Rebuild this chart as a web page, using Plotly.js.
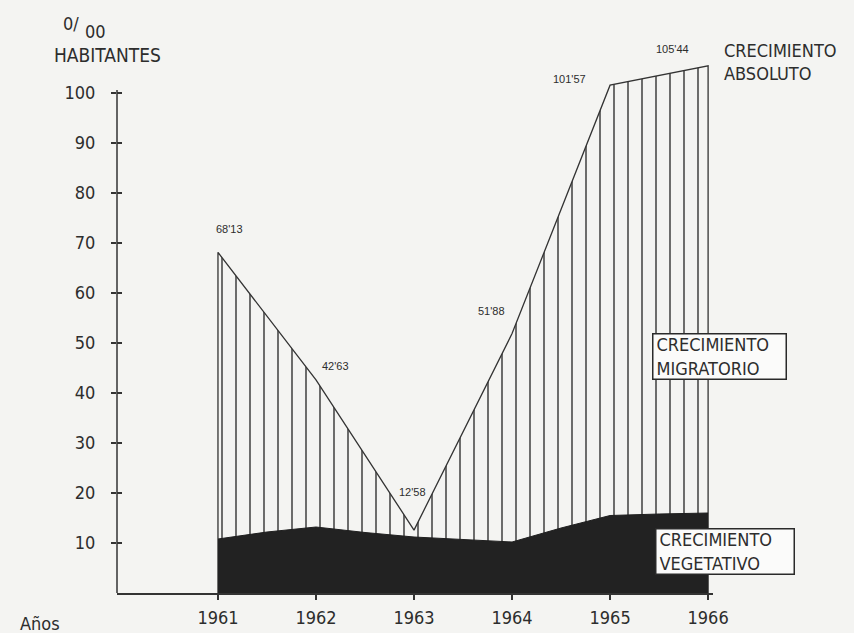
<!DOCTYPE html>
<html>
<head>
<meta charset="utf-8">
<script src="https://cdn.plot.ly/plotly-3.0.1.min.js"></script>
<style>
  html, body { margin: 0; padding: 0; background: #f4f4f2; }
  #chart { width: 854px; height: 633px; }
</style>
</head>
<body>
<div id="chart"></div>
<script>
// ---- Data ----
const years = [1961, 1962, 1963, 1964, 1965, 1966];
const absoluto = [68.13, 42.63, 12.58, 51.88, 101.57, 105.44];
const vegYears = [1961, 1961.5, 1962, 1962.5, 1963, 1963.5, 1964, 1964.5, 1965, 1965.5, 1966];
const vegetativo = [10.8, 12.2, 13.2, 12.1, 11.2, 10.7, 10.2, 13.0, 15.5, 15.8, 16.0];
const yTicks = [10, 20, 30, 40, 50, 60, 70, 80, 90, 100];
const yTickText = ["10", "20", "30", "40", "50", "60", "70", "80", "90", "100"];
const xTickText = ["1961", "1962", "1963", "1964", "1965", "1966"];

// ---- Layout geometry ----
const W = 854, H = 633;
const L = 117, R = 141, T = 63, B = 40;
const PW = W - L - R, PH = H - T - B;
const px = v => (v - L) / PW;
const py = v => (H - B - v) / PH;

const FONT = "'Liberation Sans Narrow', 'DejaVu Sans Condensed', 'Arial Narrow', sans-serif";
const INK = "#2d2d2d";
const PAPER = "#f4f4f2";

const fmt = v => v.toFixed(2).replace(".", "'");

// outline of the total growth area (drops to the baseline at both ends)
const absX = [years[0]].concat(years, [years[years.length - 1]]);
const absY = [0].concat(absoluto, [0]);

const traces = [
  {
    x: absX, y: absY, type: "scatter", mode: "lines",
    line: { color: "#333", width: 1.3 },
    fill: "toself",
    fillcolor: PAPER,
    fillpattern: { shape: "|", size: 14, solidity: 0.11, fgcolor: "#444", bgcolor: PAPER },
    hoverinfo: "skip", showlegend: false
  },
  {
    x: vegYears, y: vegetativo, type: "scatter", mode: "lines",
    line: { color: "#1f1f1f", width: 1 },
    fill: "tozeroy", fillcolor: "#222222",
    hoverinfo: "skip", showlegend: false
  },
  {
    // carrier for the inner half of the crossing y ticks
    x: [years[0]], y: [null], yaxis: "y2", type: "scatter", mode: "lines",
    hoverinfo: "skip", showlegend: false
  }
];

const valueOffsets = [[12, 23], [20, 14], [-2, 38], [-21, 23], [-41, 6], [-36, 17]];
const annotations = years.map((yr, i) => ({
  x: yr, y: absoluto[i], xref: "x", yref: "y",
  text: fmt(absoluto[i]), showarrow: false,
  xanchor: "center", yanchor: "middle",
  xshift: valueOffsets[i][0], yshift: valueOffsets[i][1],
  font: { family: "'Liberation Sans', sans-serif", size: 11, color: INK }
}));

const txt = (xp, yp, text, size, extra) => Object.assign({
  x: px(xp), y: py(yp), xref: "paper", yref: "paper",
  xanchor: "center", yanchor: "middle", text: text, showarrow: false,
  font: { family: FONT, size: size, color: INK }
}, extra || {});

annotations.push(
  txt(71, 24, "0/", 18),
  txt(95, 31, "00", 18),
  txt(52, 55, "HABITANTES", 19, { xanchor: "left" }),
  txt(722, 62, "CRECIMIENTO<br>ABSOLUTO", 18, { xanchor: "left", align: "left" }),
  txt(18, 623, "Años", 18, { xanchor: "left" }),
  txt(652, 356.5, "CRECIMIENTO<br>MIGRATORIO", 18, {
    xanchor: "left", align: "left",
    bgcolor: "#fbfbfa", bordercolor: "#2a2a2a", borderwidth: 1.5, borderpad: 3,
    width: 126, height: 38 }),
  txt(655, 551, "CRECIMIENTO<br>VEGETATIVO", 18, {
    xanchor: "left", align: "left",
    bgcolor: "#fbfbfa", bordercolor: "#2a2a2a", borderwidth: 1.5, borderpad: 3,
    width: 131, height: 38 })
);

const layout = {
  width: W, height: H,
  margin: { l: L, r: R, t: T, b: B, pad: 0 },
  paper_bgcolor: PAPER, plot_bgcolor: PAPER,
  font: { family: FONT, color: INK, size: 18 },
  showlegend: false,
  xaxis: {
    range: [1959.97, 1966.05],
    tickvals: years, ticktext: xTickText,
    ticks: "outside", ticklen: 5, tickwidth: 1.3, tickcolor: "#333",
    ticklabelstandoff: 3,
    showline: true, linecolor: "#333", linewidth: 1.5,
    showgrid: false, zeroline: false,
    tickfont: { family: FONT, size: 18, color: INK }
  },
  yaxis: {
    range: [0, 106],
    tickvals: yTicks, ticktext: yTickText,
    ticks: "outside", ticklen: 5, tickwidth: 1.3, tickcolor: "#333",
    ticklabelstandoff: 12,
    showline: false, showgrid: false, zeroline: false,
    tickfont: { family: FONT, size: 18, color: INK }
  },
  yaxis2: {
    overlaying: "y", anchor: "x", side: "left",
    range: [0, 106], tickvals: yTicks,
    ticks: "inside", ticklen: 5, tickwidth: 1.3, tickcolor: "#333",
    showticklabels: false, showline: false, showgrid: false, zeroline: false
  },
  shapes: [
    { type: "line", xref: "paper", yref: "y", x0: 0, x1: 0, y0: 0, y1: 100.6,
      line: { color: "#333", width: 1.5 } }
  ],
  annotations: annotations
};

Plotly.newPlot("chart", traces, layout, { displayModeBar: false, staticPlot: true });
</script>
</body>
</html>
